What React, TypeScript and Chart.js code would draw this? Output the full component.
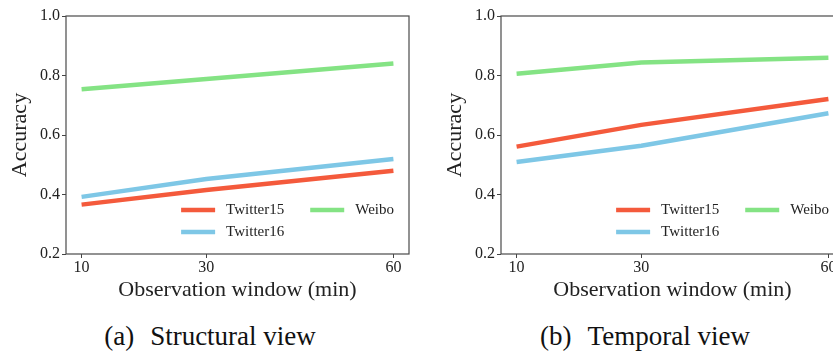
import React, { useEffect, useRef } from 'react';
import { Chart, registerables } from 'chart.js';

Chart.register(...registerables);

// ---- data ----
const windows = [10, 30, 60];
const seriesNames = ['Twitter15', 'Twitter16', 'Weibo'];
const seriesColors = ['#f45a3c', '#7ec7e6', '#84e384'];
const structuralTwitter15 = [0.366, 0.415, 0.48];
const structuralTwitter16 = [0.392, 0.452, 0.519];
const structuralWeibo = [0.754, 0.788, 0.84];
const temporalTwitter15 = [0.561, 0.634, 0.721];
const temporalTwitter16 = [0.509, 0.564, 0.673];
const temporalWeibo = [0.806, 0.844, 0.86];
const yTicks = [0.2, 0.4, 0.6, 0.8, 1.0];
const yRange = [0.2, 1.0];
const xRange = [7.5, 62.5];
const xTitle = 'Observation window (min)';
const yTitle = 'Accuracy';

const SERIF = "'Liberation Serif', 'Times New Roman', Times, serif";
const CW = 420;
const CH = 305;

const boxPlugin = {
  id: 'boxPlugin',
  afterDatasetsDraw(chart: any) {
    const { ctx, chartArea } = chart;
    ctx.save();
    ctx.strokeStyle = '#4a4a4a';
    ctx.lineWidth = 1.2;
    ctx.strokeRect(chartArea.left, chartArea.top, chartArea.right - chartArea.left, chartArea.bottom - chartArea.top);
    ctx.restore();
  },
};

const legendPlugin = {
  id: 'innerLegend',
  afterDraw(chart: any) {
    const { ctx, chartArea } = chart;
    const ds = chart.data.datasets;
    ctx.save();
    ctx.font = `15px ${SERIF}`;
    const handleLen = 34;
    const handlePad = 11;
    const colSpacing = 26;
    const rightPad = 15;
    const tw = (s: string) => ctx.measureText(s).width;
    const col1 = [ds[0], ds[1]];
    const col2 = [ds[2]];
    const col1w = handleLen + handlePad + Math.max(...col1.map((d: any) => tw(d.label)));
    const col2w = handleLen + handlePad + Math.max(...col2.map((d: any) => tw(d.label)));
    const x2 = chartArea.right - rightPad - col2w;
    const x1 = x2 - colSpacing - col1w;
    const rows = [chartArea.bottom - 44, chartArea.bottom - 22];
    const drawItem = (d: any, x: number, y: number) => {
      ctx.strokeStyle = d.borderColor;
      ctx.lineWidth = 4.5;
      ctx.lineCap = 'butt';
      ctx.beginPath();
      ctx.moveTo(x, y);
      ctx.lineTo(x + handleLen, y);
      ctx.stroke();
      ctx.fillStyle = '#222';
      ctx.textBaseline = 'middle';
      ctx.textAlign = 'left';
      ctx.fillText(d.label, x + handleLen + handlePad, y);
    };
    col1.forEach((d: any, i: number) => drawItem(d, x1, rows[i]));
    col2.forEach((d: any, i: number) => drawItem(d, x2, rows[i]));
    ctx.restore();
  },
};

function Panel({ series, left }: { series: number[][]; left: number }) {
  const ref = useRef<HTMLCanvasElement>(null);
  useEffect(() => {
    if (!ref.current) return;
    const chart = new Chart(ref.current, {
      type: 'line',
      data: {
        datasets: series.map((vals, k) => ({
          label: seriesNames[k],
          data: windows.map((x, i) => ({ x, y: vals[i] })),
          borderColor: seriesColors[k],
          backgroundColor: seriesColors[k],
          borderWidth: 4.5,
          pointRadius: 0,
          tension: 0,
          borderCapStyle: 'butt',
        })),
      },
      options: {
        animation: false,
        responsive: false,
        events: [],
        layout: { padding: { top: 16, right: 11, left: 0, bottom: 0 } },
        plugins: { legend: { display: false }, tooltip: { enabled: false } },
        scales: {
          x: {
            type: 'linear',
            min: xRange[0],
            max: xRange[1],
            afterBuildTicks: (s: any) => {
              s.ticks = windows.map((v) => ({ value: v }));
            },
            afterFit: (s: any) => {
              s.height = CH - 254;
            },
            ticks: {
              color: '#222',
              padding: 0,
              font: { family: SERIF, size: 16 },
              callback: (v: any) => String(v),
            },
            grid: { display: true, drawOnChartArea: false, drawTicks: true, tickLength: 4, tickColor: '#444', tickWidth: 1 },
            border: { display: false },
            title: { display: true, text: xTitle, color: '#222', font: { family: SERIF, size: 22 }, padding: { top: 0, bottom: 2 } },
          },
          y: {
            type: 'linear',
            min: yRange[0],
            max: yRange[1],
            afterBuildTicks: (s: any) => {
              s.ticks = yTicks.map((v) => ({ value: v }));
            },
            afterFit: (s: any) => {
              s.width = 66;
            },
            ticks: {
              color: '#222',
              padding: 2,
              font: { family: SERIF, size: 16 },
              callback: (v: any) => Number(v).toFixed(1),
            },
            grid: { display: true, drawOnChartArea: false, drawTicks: true, tickLength: 4, tickColor: '#444', tickWidth: 1 },
            border: { display: false },
            title: { display: true, text: yTitle, color: '#222', font: { family: SERIF, size: 22 }, padding: { top: 7, bottom: 0 } },
          },
        },
      },
      plugins: [boxPlugin, legendPlugin],
    } as any);
    return () => chart.destroy();
  }, []);
  return (
    <canvas
      ref={ref}
      width={CW}
      height={CH}
      style={{ position: 'absolute', left, top: 0, width: CW, height: CH }}
    />
  );
}

function Caption({ label, text, cx }: { label: string; text: string; cx: number }) {
  return (
    <div
      style={{
        position: 'absolute',
        left: cx - 200,
        width: 400,
        top: 323,
        textAlign: 'center',
        fontFamily: SERIF,
        fontSize: 27,
        lineHeight: '27px',
        color: '#111',
        whiteSpace: 'nowrap',
      }}
    >
      <span>{label}</span>
      <span style={{ display: 'inline-block', width: 16 }} />
      <span>{text}</span>
    </div>
  );
}

export default function App() {
  return (
    <div
      style={{
        position: 'absolute',
        left: 0,
        top: 0,
        width: 833,
        height: 356,
        overflow: 'hidden',
        background: '#fff',
      }}
    >
      <Panel series={[structuralTwitter15, structuralTwitter16, structuralWeibo]} left={0} />
      <Panel series={[temporalTwitter15, temporalTwitter16, temporalWeibo]} left={435} />
      <Caption label="(a)" text="Structural view" cx={210} />
      <Caption label="(b)" text="Temporal view" cx={645} />
    </div>
  );
}
